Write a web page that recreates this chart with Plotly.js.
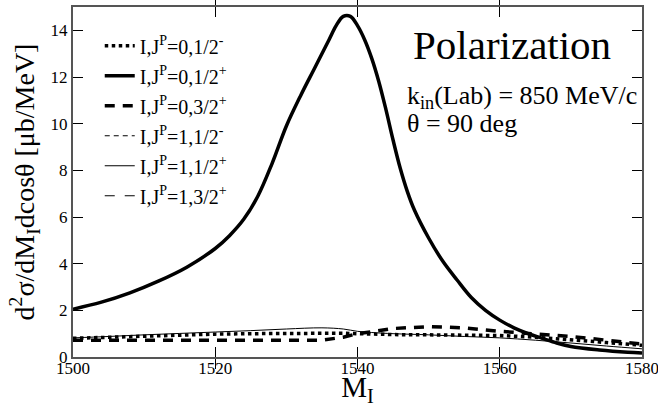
<!DOCTYPE html>
<html><head><meta charset="utf-8">
<script src="https://cdn.plot.ly/plotly-3.0.1.min.js"></script>
<style>body{margin:0;background:#fff}#c{width:658px;height:407px}</style>
</head><body><div id="c"></div>
<script>
// M_I grid points (MeV)
const m_012p = [1500,1504,1508,1512,1516,1520,1522,1524,1526,1528,1530,1532,1534,1536,1537,1538,1539,1540,1541,1542,1543,1544,1545,1546,1547,1548,1550,1552,1554,1556,1558,1560,1562,1564,1566,1568,1570,1574,1578,1580];
const v_012p = [2.05,2.35,2.75,3.25,3.85,4.65,5.2,5.9,6.9,8.3,9.9,11.2,12.4,13.6,14.2,14.6,14.6,14.2,13.6,12.8,11.8,10.6,9.3,8.1,7.1,6.3,5.1,4.1,3.3,2.55,2.0,1.58,1.25,1.0,0.8,0.6,0.45,0.3,0.2,0.17];
const m_low = [1500,1505,1510,1515,1520,1525,1530,1535,1538,1540,1542,1545,1550,1555,1560,1565,1570,1575,1580];
const v_012m = [0.8,0.85,0.9,0.95,0.98,1.0,1.02,1.03,1.02,1.0,0.98,0.96,0.95,0.95,0.92,0.85,0.75,0.62,0.5];
const v_032p = [0.72,0.72,0.72,0.72,0.72,0.71,0.7,0.72,0.85,1.0,1.08,1.22,1.3,1.25,1.1,1.0,0.88,0.72,0.55];
const v_112m = [0,0,0,0,0,0,0,0,0,0,0,0,0,0,0,0,0,0,0];
const v_112p = [0.82,0.88,0.95,1.01,1.07,1.13,1.2,1.25,1.2,1.1,1.05,1.0,0.95,0.88,0.82,0.72,0.6,0.47,0.35];
const v_132p = [0,0,0,0,0,0,0,0,0,0,0,0,0,0,0,0,0,0,0];
const names = ['I,J<sup>P</sup>=0,1/2<sup>-</sup>','I,J<sup>P</sup>=0,1/2<sup>+</sup>','I,J<sup>P</sup>=0,3/2<sup>+</sup>','I,J<sup>P</sup>=1,1/2<sup>-</sup>','I,J<sup>P</sup>=1,1/2<sup>+</sup>','I,J<sup>P</sup>=1,3/2<sup>+</sup>'];
const xTicks = [1500,1520,1540,1560,1580];
const yTicks = [0,2,4,6,8,10,12,14];

const serif = 'Liberation Serif';
const traces = [
  {x:m_low, y:v_012m, name:names[0], legendgroup:'a', line:{color:'#000',width:3.5,dash:'dot'}},
  {x:m_012p, y:v_012p, name:names[1], legendgroup:'b', line:{color:'#000',width:3.5,shape:'spline'}},
  {x:m_low, y:v_032p, name:names[2], legendgroup:'c', line:{color:'#000',width:3.5,dash:'10px,8px'}},
  {x:m_low, y:v_112m, name:names[3], legendgroup:'d', yaxis:'y2', line:{color:'#000',width:1,dash:'5px,4px'}},
  {x:m_low, y:v_112p, name:names[4], legendgroup:'e', line:{color:'#000',width:1,shape:'spline'}},
  {x:m_low, y:v_132p, name:names[5], legendgroup:'f', yaxis:'y2', line:{color:'#000',width:1,dash:'10px,10px'}}
].map(t => Object.assign({type:'scatter',mode:'lines'}, t));

const axisCommon = {showgrid:false, zeroline:false, showline:true, linecolor:'#555', linewidth:2,
  mirror:'allticks', ticks:'inside', ticklen:10, tickcolor:'#000', tickwidth:1,
  ticklabeloverflow:'allow', tickfont:{family:serif,size:17,color:'#000'}};
const layout = {
  width:658, height:407, margin:{l:73,r:16,t:7,b:50},
  paper_bgcolor:'#fff', plot_bgcolor:'#fff', showlegend:true,
  font:{family:serif,color:'#000'},
  xaxis: Object.assign({}, axisCommon, {range:[1500,1580], tickvals:xTicks, ticklabelstandoff:-5,
    title:{text:'M<sub>I</sub>', font:{family:serif,size:29,color:'#000'}, standoff:0}}),
  yaxis: Object.assign({}, axisCommon, {range:[0,15], tickvals:yTicks,
    title:{text:'d<sup>2</sup>σ/dM<sub>I</sub>dcosθ [μb/MeV]', font:{family:serif,size:28,color:'#000'}, standoff:8}}),
  yaxis2:{overlaying:'y', range:[0.06,15.06], visible:false},
  legend:{x:0.047, y:0.945, xanchor:'left', yanchor:'top', bgcolor:'rgba(0,0,0,0)',
    font:{family:serif,size:20,color:'#000'}, tracegroupgap:1},
  annotations:[
    {xref:'paper',yref:'paper',x:0.772,y:0.89,xanchor:'center',yanchor:'middle',showarrow:false,
     text:'Polarization',font:{family:serif,size:41,color:'#000'}},
    {xref:'paper',yref:'paper',x:0.583,y:0.742,xanchor:'left',yanchor:'middle',showarrow:false,align:'left',
     text:'k<sub>in</sub>(Lab) = 850 MeV/c',font:{family:serif,size:26,color:'#000'}},
    {xref:'paper',yref:'paper',x:0.583,y:0.668,xanchor:'left',yanchor:'middle',showarrow:false,align:'left',
     text:'θ = 90 deg',font:{family:serif,size:26,color:'#000'}}
  ]
};
Plotly.newPlot('c', traces, layout, {displayModeBar:false, staticPlot:true});
</script></body></html>
